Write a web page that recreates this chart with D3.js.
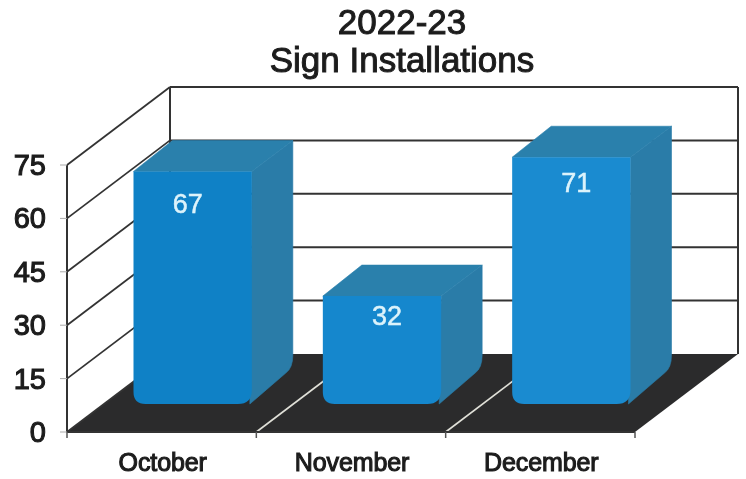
<!DOCTYPE html>
<html>
<head>
<meta charset="utf-8">
<script src="https://cdn.jsdelivr.net/npm/d3@7"></script>
<style>
    html, body { margin: 0; padding: 0; background: #fff; }
    svg { display: block; filter: blur(0.5px); }
    text { font-family: "Liberation Sans", Arial, sans-serif; }
</style>
</head>
<body>
<svg id="chart"></svg>
<script>
const categories = ["October", "November", "December"];
const signs = [67, 32, 71];
const yTicks = [0, 15, 30, 45, 60, 75];
const titleLines = ["2022-23", "Sign Installations"];
const frontColors = ["#0f81c6", "#1587cd", "#1a8bd0"];

const width = 746, height = 479;

// front plane of the box, the back wall sits at +depth
const plot = { left: 67, right: 635, top: 165, bottom: 432 };
const depth = { x: 103, y: -78 };
// bars stand part way into the box
const barShift = { x: 31, y: -22 };
const barDepth = { x: 41, y: -31 };
const barFoot = 6; // rounded foot lifts the visible bottom edge

const svg = d3.select("#chart").attr("width", width).attr("height", height);

const x = d3.scaleBand().domain(categories).range([plot.left, plot.right])
    .paddingInner(0.375).paddingOuter(0.1875);
const tickX = d3.scalePoint().domain(d3.range(categories.length + 1)).range([plot.left, plot.right]);
const y = d3.scaleLinear().domain([0, 75]).range([plot.bottom, plot.top]);

const axisColor = "#333";

// floor
svg.append("polygon")
    .attr("points", [
        [plot.left, plot.bottom], [plot.right, plot.bottom],
        [plot.right + depth.x, plot.bottom + depth.y], [plot.left + depth.x, plot.bottom + depth.y]
    ].join(" "))
    .attr("fill", "#2b2b2c");

// floor dividers between categories
svg.selectAll(".divider").data(d3.range(1, categories.length)).join("line")
    .attr("x1", d => tickX(d)).attr("y1", plot.bottom)
    .attr("x2", d => tickX(d) + depth.x).attr("y2", plot.bottom + depth.y)
    .attr("stroke", "#e0e0d8").attr("stroke-width", 1.6);

// back wall gridlines and side wall diagonals
const gridTicks = yTicks.filter(d => d > 0);
svg.selectAll(".grid").data(gridTicks).join("line")
    .attr("x1", plot.left + depth.x).attr("x2", plot.right + depth.x)
    .attr("y1", d => y(d) + depth.y).attr("y2", d => y(d) + depth.y)
    .attr("stroke", axisColor).attr("stroke-width", 2);

svg.selectAll(".diag").data(yTicks).join("line")
    .attr("x1", plot.left).attr("y1", d => y(d))
    .attr("x2", plot.left + depth.x).attr("y2", d => y(d) + depth.y)
    .attr("stroke", axisColor).attr("stroke-width", 1.8);

// box frame
[
    [plot.left, plot.top, plot.left, plot.bottom],
    [plot.left + depth.x, plot.top + depth.y, plot.left + depth.x, plot.bottom + depth.y],
    [plot.right + depth.x, plot.top + depth.y, plot.right + depth.x, plot.bottom + depth.y],
    [plot.left, plot.bottom, plot.right, plot.bottom]
].forEach(p => {
    svg.append("line")
        .attr("x1", p[0]).attr("y1", p[1]).attr("x2", p[2]).attr("y2", p[3])
        .attr("stroke", axisColor).attr("stroke-width", 2);
});

// tick marks
svg.selectAll(".ytick").data(yTicks).join("line")
    .attr("x1", plot.left - 7).attr("x2", plot.left)
    .attr("y1", d => y(d)).attr("y2", d => y(d))
    .attr("stroke", "#aaa").attr("stroke-width", 1);
svg.selectAll(".xtick").data(d3.range(categories.length + 1)).join("line")
    .attr("x1", d => tickX(d)).attr("x2", d => tickX(d))
    .attr("y1", plot.bottom).attr("y2", plot.bottom + 6)
    .attr("stroke", "#555").attr("stroke-width", 1.5);

// bars
const bars = svg.selectAll(".bar").data(categories.map((c, i) => ({ c, v: signs[i] }))).join("g");

bars.append("path") // right side
    .attr("fill", "#2a7ca8").attr("stroke", "#2a7ca8").attr("stroke-width", 0.6)
    .attr("d", d => {
        const x1 = x(d.c) + x.bandwidth() + barShift.x;
        const top = y(d.v) + barShift.y;
        const foot = y(0) + barShift.y - barFoot;
        return `M${x1},${top} L${x1 + barDepth.x},${top + barDepth.y} `
            + `L${x1 + barDepth.x},${foot + barDepth.y - 18} `
            + `Q${x1 + barDepth.x},${foot + barDepth.y - 5} ${x1 + barDepth.x - 7},${foot + barDepth.y} `
            + `L${x1 - 2},${foot} Z`;
    });

bars.append("polygon") // top
    .attr("fill", "#2a80ac").attr("stroke", "#2a80ac").attr("stroke-width", 0.6)
    .attr("points", d => {
        const x0 = x(d.c) + barShift.x, x1 = x0 + x.bandwidth();
        const top = y(d.v) + barShift.y;
        return [[x0, top], [x0 + barDepth.x - 2, top + barDepth.y],
            [x1 + barDepth.x, top + barDepth.y], [x1, top]].join(" ");
    });

bars.append("path") // front
    .attr("fill", (d, i) => frontColors[i])
    .attr("d", d => {
        const x0 = x(d.c) + barShift.x, x1 = x0 + x.bandwidth();
        const top = y(d.v) + barShift.y;
        const foot = y(0) + barShift.y - barFoot;
        return `M${x0},${top} L${x1},${top} L${x1},${foot - 14} `
            + `Q${x1},${foot} ${x1 - 14},${foot} L${x0 + 12},${foot} `
            + `Q${x0},${foot} ${x0},${foot - 12} Z`;
    });

const labelNudgeX = [-5, 5, 5];
const labelNudgeY = [42, 29, 35];
bars.append("text")
    .attr("x", (d, i) => x(d.c) + barShift.x + x.bandwidth() / 2 + labelNudgeX[i])
    .attr("y", (d, i) => y(d.v) + barShift.y + labelNudgeY[i])
    .attr("text-anchor", "middle")
    .attr("font-size", 27)
    .attr("fill", "#dcf3fb").attr("stroke", "#dcf3fb").attr("stroke-width", 0.5)
    .text(d => d.v);

// y labels
svg.selectAll(".ylabel").data(yTicks).join("text")
    .attr("x", 46).attr("y", d => y(d) + 10)
    .attr("text-anchor", "end")
    .attr("font-size", 29)
    .attr("fill", "#1c1c1c").attr("stroke", "#1c1c1c").attr("stroke-width", 1.1)
    .text(d => d);

// category labels
svg.selectAll(".xlabel").data(categories).join("text")
    .attr("x", d => x(d) + x.bandwidth() / 2 + 1)
    .attr("y", 471)
    .attr("text-anchor", "middle")
    .attr("font-size", 25)
    .attr("letter-spacing", -0.1)
    .attr("fill", "#1c1c1c").attr("stroke", "#1c1c1c").attr("stroke-width", 1.1)
    .text(d => d);

// title
svg.selectAll(".title").data(titleLines).join("text")
    .attr("x", 402)
    .attr("y", (d, i) => 34 + i * 38)
    .attr("text-anchor", "middle")
    .attr("font-size", 35)
    .attr("fill", "#1c1c1c").attr("stroke", "#1c1c1c").attr("stroke-width", 1)
    .text(d => d);
</script>
</body>
</html>
